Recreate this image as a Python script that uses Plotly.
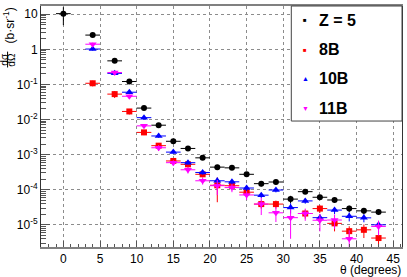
import plotly.graph_objects as go

# ---------------- data ----------------
x_z5 = [0, 4, 7, 9, 11, 13, 15, 17, 19, 21, 23, 25, 27, 29, 31, 33, 35, 37, 39, 41, 43]
y_z5 = [10.4, 2.55, 0.47, 0.121, 0.0212, 0.0069, 0.0024, 0.0015, 8.1e-4, 4.4e-4, 4.2e-4,
        2.75e-4, 1.49e-4, 1.66e-4, 5.4e-5, 8.8e-5, 6.1e-5, 5.1e-5, 2.9e-5, 2.5e-5, 2.3e-5]
e_z5 = [5.5, 0.25, 0.04, 0.012, 0.002, 0.0006, 0.0002, 0.00014, 8e-5, 7e-5, 4e-5,
        4e-5, 2.5e-5, 2.5e-5, 1.3e-5, 1.1e-5, 1e-5, 8e-6, 6e-6, 5e-6, 4e-6]

x_8b = [4, 7, 9, 11, 13, 15, 17, 19, 21, 23, 25, 27, 29, 33, 35, 37, 39, 41, 43]
y_8b = [0.108, 0.053, 0.017, 0.0043, 0.0018, 6.6e-4, 5.3e-4, 2.75e-4, 1.34e-4, 1.3e-4,
        8.5e-5, 3.9e-5, 3.9e-5, 2.1e-5, 2.9e-5, 1.1e-5, 6.6e-6, 7.2e-6, 4.2e-6]
e_8b = [0.02, 0.012, 0.003, 0.0007, 0.0003, 1.2e-4, 1e-4, 5e-5, 9e-5, 3e-5,
        2e-5, 1e-5, 1e-5, 6e-6, 7e-6, 4.5e-6, 2.5e-6, 3e-6, 2.5e-6]

x_10b = [4, 7, 9, 11, 13, 15, 17, 19, 21, 23, 25, 27, 29, 31, 33, 35, 37, 39, 41, 43]
y_10b = [1.02, 0.207, 0.06, 0.0113, 0.0034, 0.00118, 5.9e-4, 3.1e-4, 1.8e-4, 1.68e-4,
         1.12e-4, 7e-5, 9.8e-5, 3.1e-5, 4.8e-5, 1.6e-5, 2.63e-5, 1.75e-5, 1.58e-5, 1e-5]
e_10b = [0.1, 0.02, 0.006, 0.0012, 0.0004, 1.2e-4, 7e-5, 4e-5, 4e-5, 2.5e-5,
         2e-5, 1.2e-5, 1.4e-5, 1e-5, 8e-6, 4e-6, 6e-6, 5e-6, 4e-6, 3e-6]

x_11b = [4, 7, 9, 11, 13, 15, 17, 19, 21, 23, 25, 27, 29, 31, 33, 35, 37, 39, 43]
y_11b = [1.4, 0.218, 0.046, 0.0066, 0.00157, 5.9e-4, 3.7e-4, 1.8e-4, 1.3e-4, 1.15e-4,
         7.1e-5, 3.9e-5, 2.2e-5, 1.6e-5, 2.1e-5, 1.35e-5, 1.37e-5, 4e-6, 9e-6]
e_11b = [0.15, 0.02, 0.005, 0.0008, 0.0003, 1e-4, 8e-5, 4e-5, 6e-5, 3e-5,
         2e-5, 2e-5, 1e-5, 1.2e-5, 8e-6, 7e-6, 6e-6, 3e-6, 4e-6]

bin_half_width = 1.0

series_names = ["Z = 5", "8B", "10B", "11B"]
series_colors = ["#000000", "#ff0000", "#0000ff", "#ff00ff"]
series_symbols = ["circle", "square", "triangle-up", "triangle-down"]
series_sizes = [6, 6, 7, 7]
legend_glyphs = ["■", "■", "▲", "▼"]

x_tickvals = [0, 5, 10, 15, 20, 25, 30, 35, 40, 45]
y_tickvals = [1e1, 1e0, 1e-1, 1e-2, 1e-3, 1e-4, 1e-5]
y_ticktext = ["10", "1", "10<sup>-1</sup>", "10<sup>-2</sup>", "10<sup>-3</sup>",
              "10<sup>-4</sup>", "10<sup>-5</sup>"]
y_minor = [k * 10.0 ** d for d in range(-6, 2) for k in range(2, 10)]

FONT = "Liberation Sans"

W, H = 407, 277
ML, MR, MT, MB = 41, 4, 4, 30
PW, PH = W - ML - MR, H - MT - MB


def px2paper(px, py):
    return (px - ML) / PW, (H - MB - py) / PH


fig = go.Figure()

data = [(x_z5, y_z5, e_z5), (x_8b, y_8b, e_8b), (x_10b, y_10b, e_10b), (x_11b, y_11b, e_11b)]
for (xs, ys, es), name, col, sym, sz in zip(data, series_names, series_colors,
                                            series_symbols, series_sizes):
    fig.add_trace(go.Scatter(
        x=xs, y=ys, mode="markers", name=name, showlegend=False,
        marker=dict(symbol=sym, size=sz, color=col, line=dict(width=0)),
        error_y=dict(type="data", array=es, visible=True, color=col, thickness=1, width=0),
        error_x=dict(type="constant", value=bin_half_width, visible=True, color=col,
                     thickness=1, width=0),
    ))

axis_common = dict(
    showline=True, mirror=True, showgrid=True, gridcolor="#8c8c8c", griddash="dot",
    gridwidth=1, zeroline=False, ticks="inside",
    tickfont=dict(family=FONT, size=12, color="#000"),
)

fig.update_xaxes(
    **axis_common, range=[-3.05, 46.2], tickmode="array", tickvals=x_tickvals,
    ticklen=6, tickcolor="#555", linecolor="#808080", linewidth=2,
    minor=dict(ticks="inside", dtick=1, tick0=0, ticklen=3, tickcolor="#555", showgrid=False),
)
fig.update_yaxes(
    **axis_common, type="log", range=[-5.632, 1.235], tickmode="array",
    tickvals=y_tickvals, ticktext=y_ticktext, ticklen=9, tickcolor="#555",
    linecolor="#333", linewidth=1,
    minor=dict(ticks="inside", tickmode="array", tickvals=y_minor, ticklen=4.5,
               tickcolor="#555", showgrid=False),
)

# legend box
lx0, ly0 = px2paper(292, 4)
lx1, ly1 = px2paper(403, 120)
fig.add_shape(type="rect", xref="paper", yref="paper", x0=lx0, y0=ly1, x1=lx1, y1=ly0,
              line=dict(color="#444", width=1), fillcolor="white", layer="above")

fig.update_layout(
    width=W, height=H, margin=dict(l=ML, r=MR, t=MT, b=MB),
    paper_bgcolor="white", plot_bgcolor="white", showlegend=False,
    font=dict(family=FONT, size=12, color="#000"),
)

anns = []
legend_rows_py = [18.5, 48, 77.5, 107]
for name, col, glyph, rpy in zip(series_names, series_colors, legend_glyphs, legend_rows_py):
    gx, gy = px2paper(306, rpy)
    anns.append(dict(text=glyph, x=gx, y=gy, xanchor="center", yanchor="middle",
                     font=dict(size=6 if glyph == "■" else 7, color=col)))
    tx, ty = px2paper(319, rpy)
    anns.append(dict(text=name, x=tx, y=ty, xanchor="left", yanchor="middle",
                     font=dict(size=16, color="#000", weight="bold")))

ax, ay = px2paper(403, 270)
anns.append(dict(text="θ (degrees)", x=ax, y=ay, xanchor="right", yanchor="middle",
                 font=dict(size=12)))
bx, by = px2paper(8.5, 24)
anns.append(dict(text="(b·sr<sup>-1</sup>)", x=bx, y=by, textangle=-90,
                 xanchor="center", yanchor="middle", font=dict(size=12)))
nx, ny = px2paper(4, 58)
anns.append(dict(text="dσ", x=nx, y=ny, textangle=-90, xanchor="center", yanchor="middle",
                 font=dict(size=10)))
dx, dy = px2paper(11, 58)
anns.append(dict(text="dΩ", x=dx, y=dy, textangle=-90, xanchor="center", yanchor="middle",
                 font=dict(size=10)))
for a in anns:
    a.update(xref="paper", yref="paper", showarrow=False, borderpad=0)
fig.update_layout(annotations=anns)

fx0, fy0 = px2paper(7.5, 50)
fx1, fy1 = px2paper(7.5, 66)
fig.add_shape(type="line", xref="paper", yref="paper", x0=fx0, y0=fy0, x1=fx1, y1=fy1,
              line=dict(color="#000", width=1))

fig.write_html("out.html", config={"displayModeBar": False},
               post_script="document.body.style.margin='0';document.body.style.padding='0';")
